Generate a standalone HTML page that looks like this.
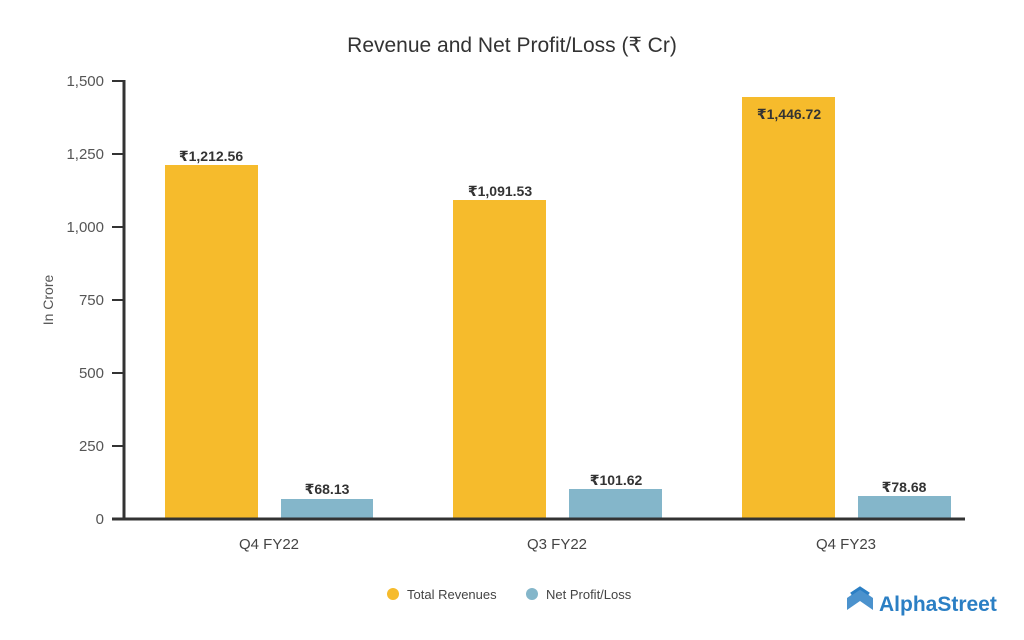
<!DOCTYPE html>
<html><head><meta charset="utf-8"><style>
body{margin:0;background:#fff}
svg{display:block;font-family:"Liberation Sans","DejaVu Sans",sans-serif}
</style></head><body>
<svg width="1024" height="640" viewBox="0 0 1024 640">
<text x="512" y="52" font-size="21" fill="#333" text-anchor="middle">Revenue and Net Profit/Loss (₹ Cr)</text>
<text transform="translate(53,300) rotate(-90)" font-size="14" fill="#555" text-anchor="middle">In Crore</text>
<g font-size="15" fill="#555" text-anchor="end">
<text x="104" y="86">1,500</text>
<text x="104" y="159">1,250</text>
<text x="104" y="232">1,000</text>
<text x="104" y="305">750</text>
<text x="104" y="378">500</text>
<text x="104" y="451">250</text>
<text x="104" y="524">0</text>
</g>
<g stroke="#333" stroke-width="2">
<line x1="112" y1="81" x2="124" y2="81"/><line x1="112" y1="154" x2="124" y2="154"/>
<line x1="112" y1="227" x2="124" y2="227"/><line x1="112" y1="300" x2="124" y2="300"/>
<line x1="112" y1="373" x2="124" y2="373"/><line x1="112" y1="446" x2="124" y2="446"/>
</g>
<rect x="165" y="165" width="93" height="353" fill="#f6bb2c"/>
<rect x="281" y="499" width="92" height="19" fill="#84b6ca"/>
<rect x="453" y="200" width="93" height="318" fill="#f6bb2c"/>
<rect x="569" y="489" width="93" height="29" fill="#84b6ca"/>
<rect x="742" y="97" width="93" height="421" fill="#f6bb2c"/>
<rect x="858" y="496" width="93" height="22" fill="#84b6ca"/>
<line x1="124" y1="80" x2="124" y2="519" stroke="#333" stroke-width="3"/>
<line x1="112" y1="519" x2="965" y2="519" stroke="#333" stroke-width="3"/>
<g font-size="14" font-weight="bold" fill="#333" text-anchor="middle">
<text x="211" y="161">₹1,212.56</text>
<text x="327" y="494">₹68.13</text>
<text x="500" y="196">₹1,091.53</text>
<text x="616" y="485">₹101.62</text>
<text x="789" y="119">₹1,446.72</text>
<text x="904" y="492">₹78.68</text>
</g>
<g font-size="15" fill="#444" text-anchor="middle">
<text x="269" y="549">Q4 FY22</text>
<text x="557" y="549">Q3 FY22</text>
<text x="846" y="549">Q4 FY23</text>
</g>
<circle cx="393" cy="594" r="6" fill="#f6bb2c"/>
<text x="407" y="599" font-size="13" fill="#444">Total Revenues</text>
<circle cx="532" cy="594" r="6" fill="#84b6ca"/>
<text x="546" y="599" font-size="13" fill="#444">Net Profit/Loss</text>
<g fill="#2b7fc4">
<path d="M847 598 L860 589 L873 598 L873 610 L860 601 L847 610 Z" opacity="0.85"/>
<path d="M851 594 L860 588 L869 594" fill="none" stroke="#2b7fc4" stroke-width="3"/>
<text x="879" y="611" font-size="21" font-weight="bold">AlphaStreet</text>
</g>
</svg>
</body></html>
